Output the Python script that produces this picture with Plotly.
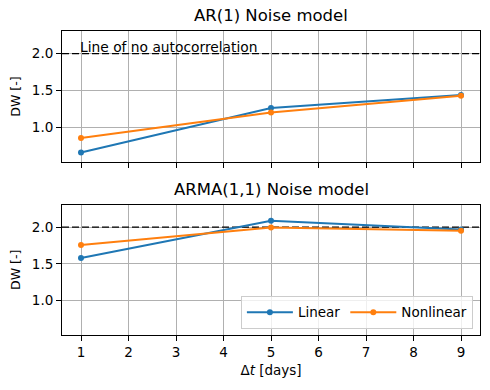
import plotly.graph_objects as go
from plotly.subplots import make_subplots

# ---- data ----
dt_days = [1, 5, 9]
ar1_linear = [0.665, 1.267, 1.44]
ar1_nonlinear = [0.86, 1.205, 1.43]
arma_linear = [1.58, 2.086, 1.967]
arma_nonlinear = [1.755, 1.995, 1.95]
no_autocorr_level = 2.0
x_ticks = [1, 2, 3, 4, 5, 6, 7, 8, 9]
y_ticks = [1.0, 1.5, 2.0]
titles = ["AR(1) Noise model", "ARMA(1,1) Noise model"]

BLUE = "#1f77b4"
ORANGE = "#ff7f0e"
FONT = "DejaVu Sans"

fig = make_subplots(rows=2, cols=1, shared_xaxes=True, vertical_spacing=0.14)

series = [
    (1, ar1_linear, ar1_nonlinear),
    (2, arma_linear, arma_nonlinear),
]
for row, lin, nonlin in series:
    # dashed line of no autocorrelation
    fig.add_trace(
        go.Scatter(
            x=[0.6, 9.4], y=[no_autocorr_level, no_autocorr_level], mode="lines",
            line=dict(color="black", width=1.3, dash="7px,3px"), showlegend=False,
            hoverinfo="skip",
        ),
        row=row, col=1,
    )
    for name, vals, col in [("Linear", lin, BLUE), ("Nonlinear", nonlin, ORANGE)]:
        fig.add_trace(
            go.Scatter(
                x=dt_days, y=vals, name=name, mode="lines+markers",
                line=dict(color=col, width=2), marker=dict(color=col, size=6),
                showlegend=(row == 2),
            ),
            row=row, col=1,
        )

axis_common = dict(
    showline=True, linecolor="black", linewidth=1, mirror=True,
    ticks="outside", ticklen=5, tickcolor="black", tickwidth=1,
    showgrid=True, gridcolor="#b0b0b0", gridwidth=1, zeroline=False,
    tickfont=dict(family=FONT, size=13.5, color="black"),
)

fig.update_xaxes(range=[0.6, 9.4], tickvals=x_ticks, **axis_common)
fig.update_yaxes(range=[0.535, 2.305], tickvals=y_ticks, ticktext=["1.0", "1.5", "2.0"],
                 title=dict(text="DW [-]", font=dict(family=FONT, size=12.5, color="black"), standoff=8),
                 **axis_common)
fig.update_xaxes(showticklabels=False, row=1, col=1)
fig.update_xaxes(title=dict(text="Δ<i>t</i> [days]", font=dict(family=FONT, size=13.5, color="black"), standoff=6),
                 row=2, col=1)

fig.update_layout(
    width=490, height=390,
    margin=dict(l=62, r=10, t=31, b=55),
    plot_bgcolor="white", paper_bgcolor="white",
    font=dict(family=FONT, color="black"),
    yaxis=dict(domain=[0.5685, 1.0]),
    yaxis2=dict(domain=[0.0, 0.429]),
    legend=dict(
        orientation="h", x=0.983, xanchor="right", y=0.02, yanchor="bottom",
        bgcolor="rgba(255,255,255,0.8)", bordercolor="#cccccc", borderwidth=1,
        font=dict(family=FONT, size=13.5, color="black"),
        itemwidth=46,
    ),
)

# subplot titles
fig.add_annotation(text=titles[0], xref="paper", yref="paper", x=0.5, y=1.0, yshift=4,
                   xanchor="center", yanchor="bottom", showarrow=False,
                   font=dict(family=FONT, size=16.5, color="black"))
fig.add_annotation(text=titles[1], xref="paper", yref="paper", x=0.5, y=0.429, yshift=4,
                   xanchor="center", yanchor="bottom", showarrow=False,
                   font=dict(family=FONT, size=16.5, color="black"))
# text label
fig.add_annotation(text="Line of no autocorrelation", xref="x", yref="y",
                   x=dt_days[0], y=no_autocorr_level, xanchor="left", yanchor="bottom",
                   xshift=-3, yshift=-3, showarrow=False,
                   font=dict(family=FONT, size=13.8, color="black"))

fig.write_html("out.html")
